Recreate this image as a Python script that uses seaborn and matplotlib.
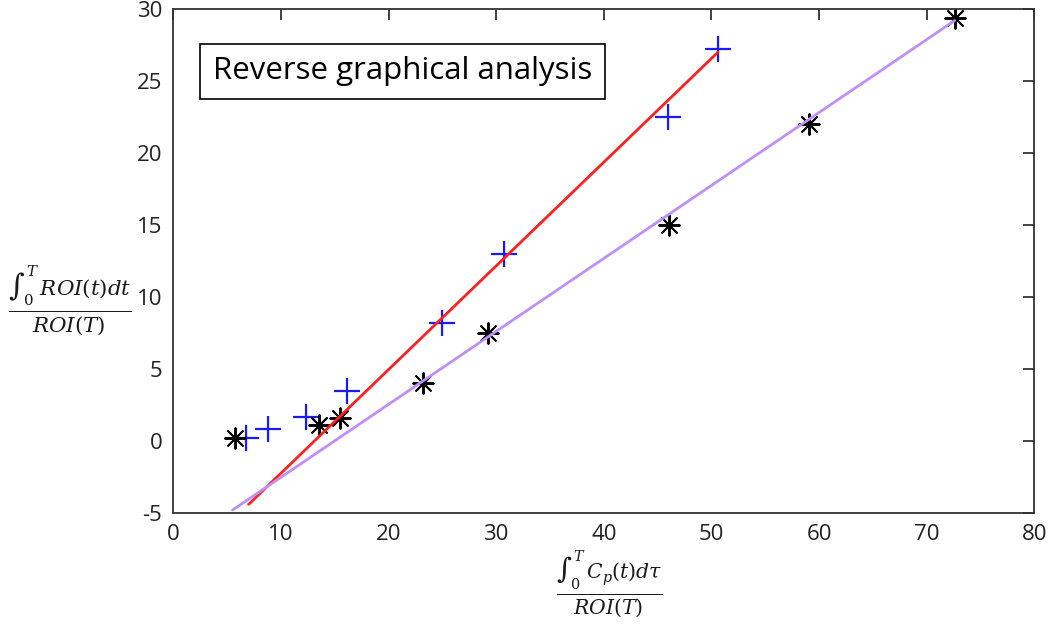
"""
Reverse graphical analysis plot (gnuplot-style) recreated with seaborn.
"""

import matplotlib
matplotlib.use("Agg")
import matplotlib.pyplot as plt
import seaborn as sns
import pandas as pd

# black asterisks
star_x = [5.7, 13.5, 15.5, 23.2, 29.2, 46.1, 59.1, 72.6]
star_y = [0.2, 1.1, 1.6, 4.0, 7.5, 15.0, 22.0, 29.4]

# blue crosses
plus_x = [6.8, 8.8, 12.3, 16.1, 25.0, 30.7, 46.0, 50.6]
plus_y = [0.2, 0.8, 1.7, 3.5, 8.2, 13.0, 22.5, 27.2]

# fitted lines (endpoints)
red_x = [7.0, 50.6]
red_y = [-4.4, 27.0]
purple_x = [5.5, 72.6]
purple_y = [-4.8, 29.2]

x_ticks = [0, 10, 20, 30, 40, 50, 60, 70, 80]
y_ticks = [-5, 0, 5, 10, 15, 20, 25, 30]

sns.set_theme(style="white")
plt.rcParams["font.family"] = ["Open Sans", "DejaVu Sans"]
plt.rcParams["mathtext.fontset"] = "dejavuserif"
plt.rcParams["axes.unicode_minus"] = False

fig = plt.figure(figsize=(10.5, 6.26), dpi=100)
ax = fig.add_axes([0.165, 0.1805, 0.82, 0.805])

sns.lineplot(x=red_x, y=red_y, color="#ff2020", linewidth=2, ax=ax)
sns.lineplot(x=purple_x, y=purple_y, color="#c090f8", linewidth=2, ax=ax)

plus_df = pd.DataFrame({"x": plus_x, "y": plus_y})
star_df = pd.DataFrame({"x": star_x, "y": star_y})
sns.scatterplot(data=plus_df, x="x", y="y", marker="+", s=360, color="#1a1aff",
                linewidth=1.6, ax=ax)
sns.scatterplot(data=star_df, x="x", y="y", marker=(8, 2, 0), s=220, color="black",
                linewidth=1.4, ax=ax)

ax.set_xlim(0, 80)
ax.set_ylim(-5, 30)
ax.set_xticks(x_ticks)
ax.set_yticks(y_ticks)
ax.set_xlabel("")
ax.set_ylabel("")
ax.tick_params(direction="in", length=8, width=1.2, top=True, right=True,
               labelsize=16, colors="#222222", pad=8)
ax.tick_params(axis="x", labeltop=False)
ax.tick_params(axis="y", labelright=False)
for s in ax.spines.values():
    s.set_color("#333333")
    s.set_linewidth(1.3)

ax.text(0.046, 0.877, "Reverse graphical analysis", transform=ax.transAxes,
        fontsize=22.5, va="center", ha="left", color="black",
        bbox=dict(boxstyle="square,pad=0.4", facecolor="white",
                  edgecolor="black", linewidth=1.2))

fig.text(0.066, 0.52, r"$\frac{\int_0^T\, ROI(t)dt}{ROI(T)}$", fontsize=22,
         ha="center", va="center", color="#1a1a1a")
fig.text(0.58, 0.066, r"$\frac{\int_0^T\, C_p(t)d\tau}{ROI(T)}$", fontsize=21,
         ha="center", va="center", color="#1a1a1a")

fig.savefig("out.png", dpi=100)
plt.close()
